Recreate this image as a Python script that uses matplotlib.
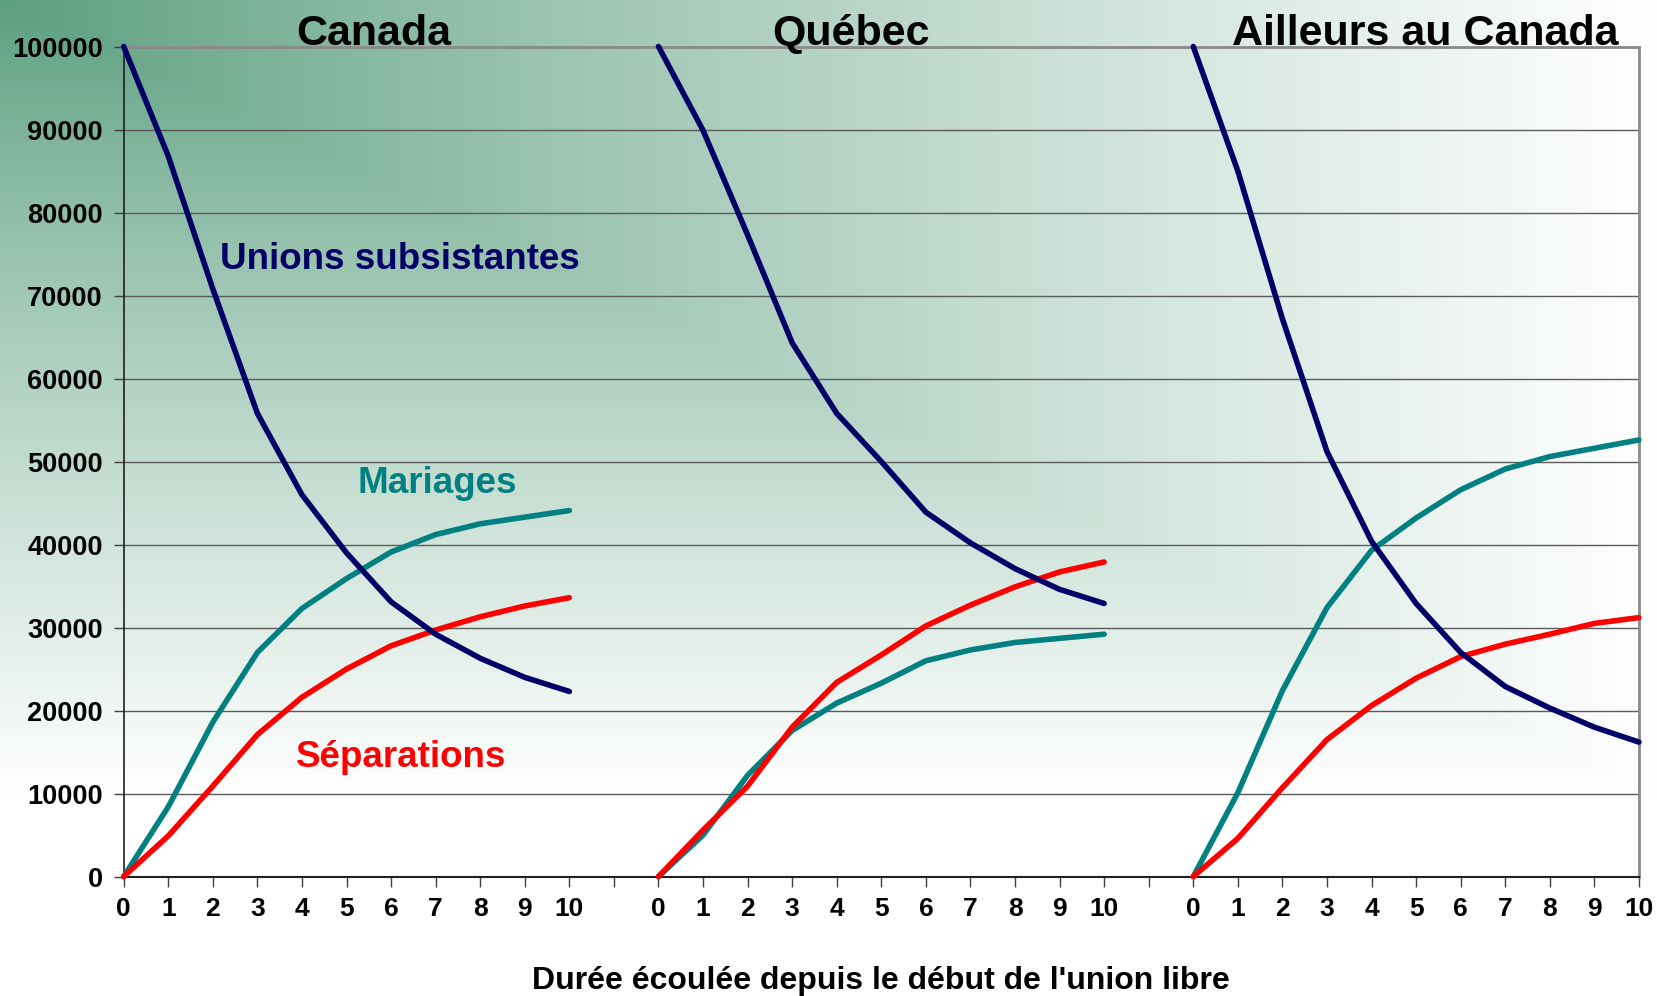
import numpy as np
import matplotlib.pyplot as plt
from matplotlib.colors import to_rgb
import matplotlib.transforms as mtransforms

plt.rcParams['font.family'] = ['Liberation Sans', 'DejaVu Sans']
plt.rcParams['font.weight'] = 'bold'

years = list(range(11))
regions = ["Canada", "Québec", "Ailleurs au Canada"]

unions = {
    "Canada": [100000, 86800, 70800, 55800, 46000, 39000, 33100, 29200, 26300, 24000, 22300],
    "Québec": [100000, 89900, 77300, 64300, 55800, 50000, 43900, 40200, 37100, 34600, 32900],
    "Ailleurs au Canada": [100000, 85000, 67200, 51200, 40400, 32900, 27000, 22900, 20300, 18000, 16200],
}
mariages = {
    "Canada": [0, 8400, 18600, 27000, 32300, 35900, 39100, 41200, 42500, 43300, 44100],
    "Québec": [0, 5000, 12200, 17600, 20900, 23300, 26000, 27300, 28200, 28700, 29200],
    "Ailleurs au Canada": [0, 10100, 22400, 32400, 39300, 43200, 46600, 49100, 50600, 51600, 52600],
}
separations = {
    "Canada": [0, 4900, 10900, 17100, 21600, 25000, 27800, 29700, 31300, 32600, 33600],
    "Québec": [0, 5600, 10900, 18000, 23400, 26700, 30200, 32700, 34900, 36700, 37900],
    "Ailleurs au Canada": [0, 4600, 10700, 16500, 20600, 23900, 26500, 28000, 29200, 30500, 31200],
}

navy = "#000066"
teal = "#008080"
red = "#ff0000"

fig = plt.figure(figsize=(16.58, 9.96), dpi=100)

# fond en degrade depuis le coin superieur gauche
bg = fig.add_axes([0, 0, 1, 1], zorder=0)
gx, gy = np.meshgrid(np.linspace(0, 1, 600), np.linspace(0, 1, 400))
t = np.clip(np.maximum(gx, gy * 1.25), 0, 1) ** 0.85
c0 = np.array(to_rgb("#5a9e7e"))
c1 = np.array([1.0, 1.0, 1.0])
img = c0[None, None, :] * (1 - t[..., None]) + c1[None, None, :] * t[..., None]
bg.imshow(img, aspect="auto", extent=[0, 1, 0, 1], origin="upper")
bg.axis("off")

ax = fig.add_axes([0.0746, 0.1199, 0.9139, 0.8334], zorder=1)
ax.set_facecolor("none")

offsets = [0, 12, 24]
for off, reg in zip(offsets, regions):
    x = [off + k for k in years]
    ax.plot(x, mariages[reg], color=teal, lw=4, solid_capstyle="round", clip_on=False, zorder=3)
    ax.plot(x, separations[reg], color=red, lw=4, solid_capstyle="round", clip_on=False, zorder=4)
    ax.plot(x, unions[reg], color=navy, lw=4, solid_capstyle="round", clip_on=False, zorder=5)

ax.set_xlim(0, 34)
ax.set_ylim(0, 100000)
ax.set_yticks(range(0, 100001, 10000))
ax.set_yticklabels([str(v) for v in range(0, 100001, 10000)], fontsize=19.5, fontweight="bold")

xt = list(range(35))
xl = []
for k in xt:
    if k % 12 == 11:
        xl.append("")
    else:
        xl.append(str(k % 12))
ax.set_xticks(xt)
ax.set_xticklabels(xl, fontsize=19, fontweight="bold")
ax.tick_params(axis="x", length=7, width=1, color="#404040", pad=8)
ax.tick_params(axis="y", length=7, width=1, color="#404040", pad=8)

ax.grid(axis="y", color="#5a5a5a", lw=1)
ax.set_axisbelow(True)
ax.spines["left"].set_color("#202020")
ax.spines["bottom"].set_color("#202020")
ax.spines["left"].set_linewidth(1.2)
ax.spines["bottom"].set_linewidth(1.5)
ax.spines["top"].set_color("#8a8a8a")
ax.spines["right"].set_color("#8a8a8a")
ax.spines["top"].set_linewidth(2)
ax.spines["right"].set_linewidth(2)

ax.set_xlabel("Durée écoulée depuis le début de l'union libre", fontsize=23,
              fontweight="bold", labelpad=32)

trans = mtransforms.blended_transform_factory(ax.transData, ax.transAxes)
for xc, reg in zip([5.62, 16.32, 29.2], regions):
    ax.text(xc, 1.002, reg, transform=trans, ha="center", va="baseline",
            fontsize=31, fontweight="bold", color="black")

ax.text(2.16, 74400, "Unions subsistantes", color=navy, fontsize=26.5,
        fontweight="bold", va="center", ha="left")
ax.text(5.24, 47300, "Mariages", color=teal, fontsize=26.5,
        fontweight="bold", va="center", ha="left")
ax.text(3.87, 14400, "Séparations", color=red, fontsize=26.5,
        fontweight="bold", va="center", ha="left")

fig.savefig("out.png", dpi=100)
